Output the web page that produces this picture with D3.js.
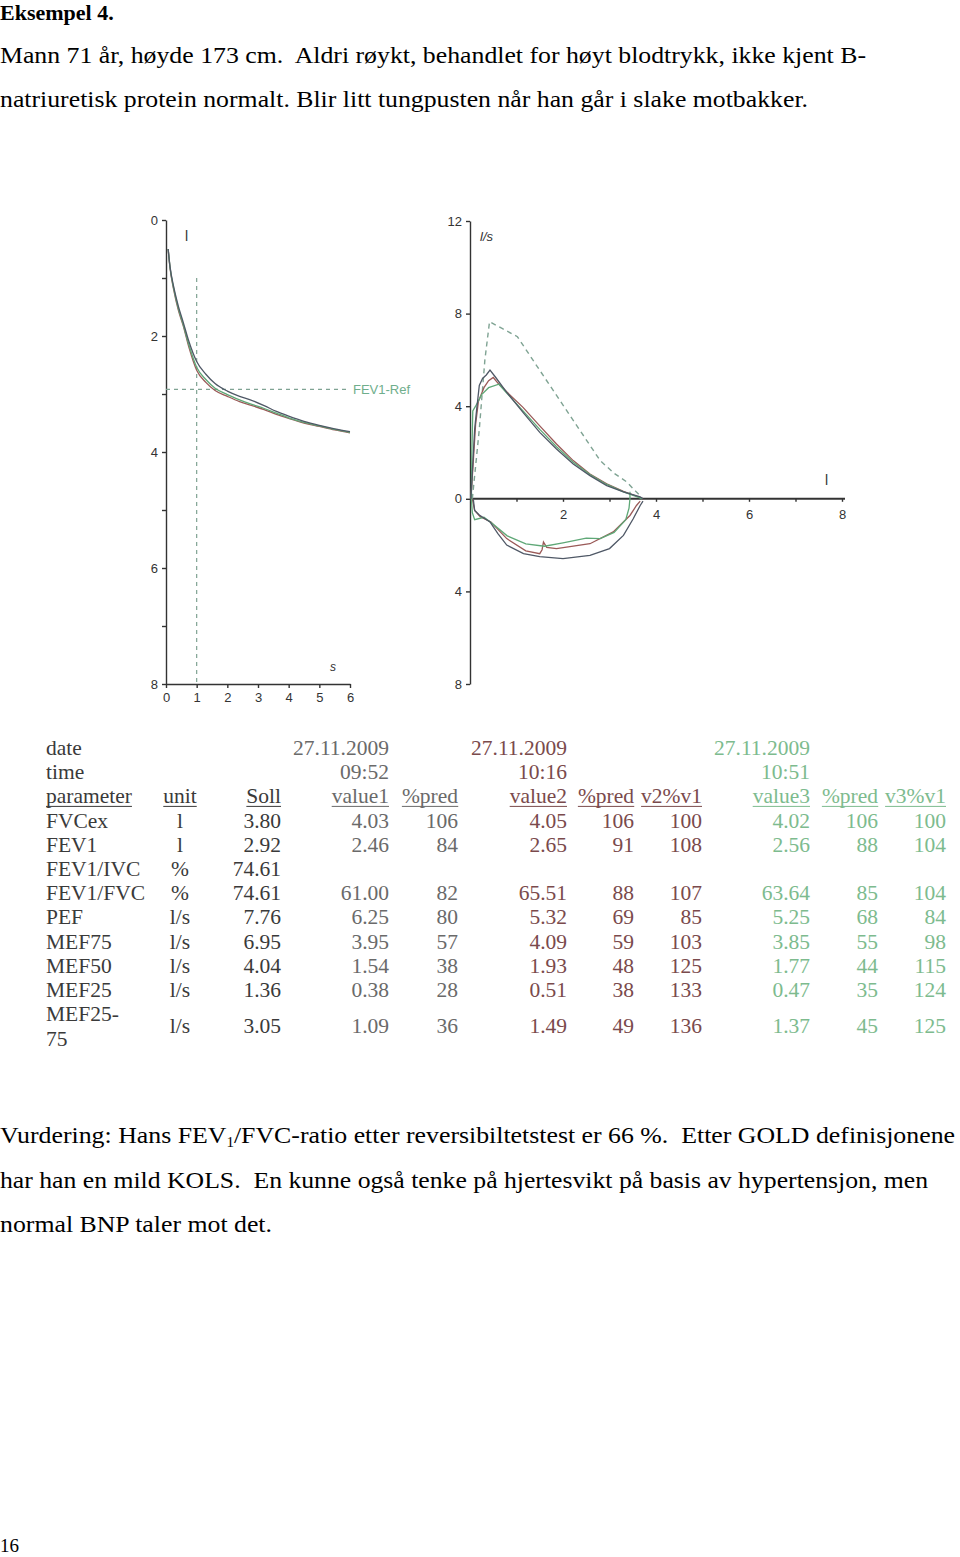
<!DOCTYPE html>
<html><head><meta charset="utf-8">
<script src="https://cdn.jsdelivr.net/npm/d3@7"></script>
<style>
html,body{margin:0;padding:0;background:#fff;}
svg{display:block;}
text{white-space:pre;}
</style></head>
<body>
<svg id="c" width="960" height="1557"></svg>
<script>
// ---------- DATA ----------
const introLines = [
  "Mann 71 år, høyde 173 cm.  Aldri røykt, behandlet for høyt blodtrykk, ikke kjent B-",
  "natriuretisk protein normalt. Blir litt tungpusten når han går i slake motbakker."
];
const title = "Eksempel 4.";
// volume-time curves [seconds, litres]
const vtSeries1 = [[0.07,0.5],[0.13,0.8],[0.25,1.15],[0.4,1.48],[0.56,1.76],[0.75,2.1],[1.0,2.44],[1.3,2.66],[1.6,2.82],[2.0,2.95],[2.4,3.04],[2.75,3.1],[3.2,3.2],[3.6,3.3],[4.0,3.38],[4.5,3.47],[5.0,3.54],[5.5,3.6],[6.0,3.65]];
const vtSeries2 = [[0.07,0.5],[0.13,0.82],[0.25,1.2],[0.4,1.55],[0.56,1.82],[0.75,2.2],[1.0,2.59],[1.3,2.8],[1.6,2.94],[2.0,3.04],[2.4,3.13],[2.75,3.19],[3.2,3.27],[3.6,3.35],[4.0,3.42],[4.5,3.5],[5.0,3.56],[5.5,3.62],[6.0,3.67]];
const vtSeries3 = [[0.07,0.5],[0.13,0.81],[0.25,1.18],[0.4,1.52],[0.56,1.8],[0.75,2.16],[1.0,2.54],[1.3,2.75],[1.6,2.9],[2.0,3.01],[2.4,3.1],[2.75,3.17],[3.2,3.25],[3.6,3.33],[4.0,3.41],[4.5,3.49],[5.0,3.55],[5.5,3.61],[6.0,3.66]];
const fev1Ref = 2.92;
// flow-volume curves [litres, l/s]
const fvPredicted = [[0.05,0],[0.2,3.0],[0.32,6.0],[0.42,7.65],[0.7,7.35],[1.02,7.0],[1.5,5.55],[2.0,4.05],[2.5,2.55],[2.8,1.65],[3.1,1.1],[3.37,0.73],[3.55,0.35],[3.7,0.05]];
const fvExp1 = [[0.02,0],[0.06,1.5],[0.1,3.0],[0.14,3.8],[0.2,4.9],[0.27,5.2],[0.35,5.35],[0.43,5.56],[0.55,5.25],[0.79,4.6],[1.14,3.73],[1.5,2.87],[1.86,2.15],[2.22,1.5],[2.58,1.0],[2.94,0.57],[3.3,0.3],[3.66,0.08],[3.72,0]];
const fvExp2 = [[0.02,0],[0.07,1.6],[0.12,3.2],[0.18,4.2],[0.3,4.8],[0.4,5.1],[0.5,5.24],[0.6,5.0],[0.8,4.6],[1.14,3.95],[1.5,3.15],[1.86,2.37],[2.22,1.65],[2.58,1.07],[2.94,0.65],[3.3,0.32],[3.6,0.1],[3.72,0]];
const fvExp3 = [[0.03,0],[0.04,2.0],[0.06,3.8],[0.12,4.0],[0.25,4.5],[0.4,4.8],[0.62,4.95],[0.8,4.55],[1.14,3.8],[1.5,3.0],[1.86,2.25],[2.22,1.58],[2.58,1.05],[2.94,0.62],[3.3,0.3],[3.6,0.08],[3.7,0]];
const fvIns1 = [[0.07,0],[0.1,-0.5],[0.2,-0.7],[0.43,-1.0],[0.6,-1.5],[0.79,-2.0],[1.15,-2.37],[1.5,-2.5],[2.0,-2.58],[2.58,-2.44],[3.0,-2.15],[3.3,-1.58],[3.51,-0.86],[3.66,-0.29],[3.72,-0.1]];
const fvIns2 = [[0.05,0],[0.1,-0.5],[0.22,-0.77],[0.45,-1.0],[0.79,-1.72],[1.2,-2.25],[1.5,-2.37],[1.55,-2.2],[1.58,-1.87],[1.65,-2.1],[1.86,-2.15],[2.58,-1.94],[3.08,-1.43],[3.44,-0.72],[3.58,-0.29],[3.66,-0.1]];
const fvIns3 = [[0.03,0],[0.05,-0.6],[0.1,-0.9],[0.3,-0.8],[0.5,-1.1],[0.8,-1.6],[1.2,-1.95],[1.6,-2.05],[2.0,-1.9],[2.5,-1.7],[2.8,-1.72],[3.1,-1.45],[3.35,-0.9],[3.42,-0.4],[3.44,0],[3.44,0.3]];
const vtYTicks = [0,1,2,3,4,5,6,7,8];
const vtXTicks = [0,1,2,3,4,5,6];
const fvXTicks = [1,2,3,4,5,6,7,8];
const fvYTicks = [-8,-4,0,4,8,12];
// table
const dates = ["27.11.2009","27.11.2009","27.11.2009"];
const times = ["09:52","10:16","10:51"];
const params = ["FVCex","FEV1","FEV1/IVC","FEV1/FVC","PEF","MEF75","MEF50","MEF25","MEF25-75"];
const units = ["l","l","%","%","l/s","l/s","l/s","l/s","l/s"];
const soll = ["3.80","2.92","74.61","74.61","7.76","6.95","4.04","1.36","3.05"];
const value1 = ["4.03","2.46","","61.00","6.25","3.95","1.54","0.38","1.09"];
const pred1 = ["106","84","","82","80","57","38","28","36"];
const value2 = ["4.05","2.65","","65.51","5.32","4.09","1.93","0.51","1.49"];
const pred2 = ["106","91","","88","69","59","48","38","49"];
const v2v1 = ["100","108","","107","85","103","125","133","136"];
const value3 = ["4.02","2.56","","63.64","5.25","3.85","1.77","0.47","1.37"];
const pred3 = ["106","88","","85","68","55","44","35","45"];
const v3v1 = ["100","104","","104","84","98","115","124","125"];
const assessment = [
  ["Vurdering: Hans FEV","1","/FVC-ratio etter reversibiltetstest er 66 %.  Etter GOLD definisjonene"],
  ["har han en mild KOLS.  En kunne også tenke på hjertesvikt på basis av hypertensjon, men"],
  ["normal BNP taler mot det."]
];
const pageNo = "16";

// ---------- DRAW ----------
const svg = d3.select("#c");
const serif = "'Liberation Serif','Times New Roman',serif";
const sans = "'Liberation Sans',Arial,sans-serif";
const cDark = "#4f5866", cRed = "#9a5a58", cGreen = "#5fa877", cPred = "#7fa393";

function fitText(sel, w){ sel.attr("textLength", w).attr("lengthAdjust","spacingAndGlyphs"); }

svg.append("text").attr("x",0).attr("y",20).attr("font-family",serif).attr("font-weight","bold")
  .attr("font-size",22).attr("fill","#000").text(title);
const introW = [866, 808];
introLines.forEach((l,i)=>{
  svg.append("text").attr("x",0).attr("y",63+i*44).attr("font-family",serif).attr("font-size",23)
    .attr("fill","#000").text(l).call(fitText, introW[i]);
});

// volume-time
const vtX = d3.scaleLinear([0,6],[166,350]);
const vtY = d3.scaleLinear([0,8],[220,684]);
const gvt = svg.append("g");
const axStyle = g=>{ g.selectAll("path,line").attr("stroke","#333").attr("stroke-width",1.4);
  g.selectAll("text").attr("font-family",sans).attr("font-size",13).attr("fill","#333"); };
gvt.append("g").attr("transform","translate(166,0)")
  .call(d3.axisLeft(vtY).tickValues(vtYTicks).tickSize(4).tickSizeOuter(0).tickPadding(4)
    .tickFormat(d=>d%2===0?d:"")).call(axStyle);
gvt.append("g").attr("transform","translate(0,684)")
  .call(d3.axisBottom(vtX).tickValues(vtXTicks).tickSize(4).tickSizeOuter(0).tickPadding(5)
    .tickFormat(d3.format("d"))).call(axStyle);
// reference lines
gvt.append("line").attr("x1",vtX(0)).attr("x2",vtX(5.92)).attr("y1",vtY(fev1Ref)).attr("y2",vtY(fev1Ref))
  .attr("stroke",cPred).attr("stroke-width",1.2).attr("stroke-dasharray","4,4");
gvt.append("line").attr("x1",vtX(1)).attr("x2",vtX(1)).attr("y1",vtY(1)).attr("y2",vtY(8))
  .attr("stroke",cPred).attr("stroke-width",1.2).attr("stroke-dasharray","4,4");
gvt.append("text").attr("x",vtX(6)+3).attr("y",vtY(fev1Ref)+4.5).attr("font-family",sans).attr("font-size",13)
  .attr("fill","#6fae8c").text("FEV1-Ref");
gvt.append("text").attr("x",185).attr("y",241).attr("font-family",sans).attr("font-size",14).attr("fill","#333").text("l");
gvt.append("text").attr("x",330).attr("y",671).attr("font-family",sans).attr("font-style","italic").attr("font-size",12).attr("fill","#333").text("s");
const vtLine = d3.line().x(d=>vtX(d[0])).y(d=>vtY(d[1])).curve(d3.curveMonotoneX);
[[vtSeries2,cRed],[vtSeries3,cGreen],[vtSeries1,cDark]].forEach(([s,c])=>{
  gvt.append("path").datum(s).attr("d",vtLine).attr("fill","none").attr("stroke",c).attr("stroke-width",1.3);
});

// flow-volume
const fvX = d3.scaleLinear([0,8],[470,842]);
const fvY = d3.scaleLinear([-8,12],[684,221]);
const gfv = svg.append("g");
gfv.append("g").attr("transform","translate(470,0)")
  .call(d3.axisLeft(fvY).tickValues(fvYTicks).tickSize(4).tickSizeOuter(0).tickPadding(4)
    .tickFormat(d=>Math.abs(d))).call(axStyle);
gfv.append("g").attr("transform",`translate(0,${fvY(0)})`)
  .call(d3.axisBottom(fvX).tickValues(fvXTicks).tickSize(3).tickSizeOuter(0).tickPadding(8)
    .tickFormat(d=>d%2===0?d:"")).call(axStyle)
  .call(g=>g.select("path").attr("stroke-width",2).attr("d",`M470,0H845`));
gfv.append("text").attr("x",480).attr("y",241).attr("font-family",sans).attr("font-style","italic").attr("font-size",13).attr("fill","#333").text("l/s");
gfv.append("text").attr("x",825).attr("y",485).attr("font-family",sans).attr("font-size",14).attr("fill","#333").text("l");
const fvLine = d3.line().x(d=>fvX(d[0])).y(d=>fvY(d[1]));
gfv.append("path").datum(fvPredicted).attr("d",fvLine).attr("fill","none").attr("stroke",cPred)
  .attr("stroke-width",1.4).attr("stroke-dasharray","5,4");
[[fvExp2,cRed],[fvIns2,cRed],[fvExp3,cGreen],[fvIns3,cGreen],[fvExp1,cDark],[fvIns1,cDark]].forEach(([s,c])=>{
  gfv.append("path").datum(s).attr("d",fvLine).attr("fill","none").attr("stroke",c).attr("stroke-width",1.3);
});

// table
const gt = svg.append("g").attr("font-family",serif).attr("font-size",21.5);
const cName = "#3a3a3a", cG1 = "#6a6a6a", cG2 = "#7a4a4c", cG3 = "#7dbb8e";
const rowY = i => 755 + i*24.2;
function txt(x,y,s,col,anchor,ul){
  const t = gt.append("text").attr("x",x).attr("y",y).attr("fill",col).attr("text-anchor",anchor||"start").text(s);
  if(ul){ const b = t.node().getBBox();
    gt.append("line").attr("x1",b.x).attr("x2",b.x+b.width).attr("y1",y+3).attr("y2",y+3).attr("stroke",col).attr("stroke-width",1); }
  return t;
}
txt(46,rowY(0),"date",cName); txt(46,rowY(1),"time",cName);
txt(46,rowY(2),"parameter",cName,"start",true);
txt(180,rowY(2),"unit",cName,"middle",true);
txt(281,rowY(2),"Soll",cName,"end",true);
const groups = [
  {col:cG1, cols:[[389,value1,"value1"],[458,pred1,"%pred"]]},
  {col:cG2, cols:[[567,value2,"value2"],[634,pred2,"%pred"],[702,v2v1,"v2%v1"]]},
  {col:cG3, cols:[[810,value3,"value3"],[878,pred3,"%pred"],[946,v3v1,"v3%v1"]]}
];
groups.forEach((g,gi)=>{
  const rx = g.cols[0][0];
  txt(rx,rowY(0),dates[gi],g.col,"end");
  txt(rx,rowY(1),times[gi],g.col,"end");
  g.cols.forEach(([x,arr,h])=>{
    txt(x,rowY(2),h,g.col,"end",true);
    arr.forEach((v,i)=>{ const y = i===8 ? rowY(3+i)+12 : rowY(3+i); if(v) txt(x,y,v,g.col,"end"); });
  });
});
params.forEach((p,i)=>{
  const y = i===8 ? rowY(3+i)+12 : rowY(3+i);
  if(i===8){ txt(46,rowY(3+i),"MEF25-",cName); txt(46,rowY(3+i)+25,"75",cName); }
  else txt(46,y,p,cName);
  txt(180,y,units[i],cName,"middle");
  txt(281,y,soll[i],cName,"end");
});

// assessment
const aW = [955, 928, 272];
assessment.forEach((parts,i)=>{
  const t = svg.append("text").attr("x",0).attr("y",1143+i*44.5).attr("font-family",serif).attr("font-size",24).attr("fill","#000");
  if(parts.length===1){ t.text(parts[0]); }
  else {
    t.append("tspan").text(parts[0]);
    t.append("tspan").attr("font-size",14).attr("dy",4).text(parts[1]);
    t.append("tspan").attr("dy",-4).text(parts[2]);
  }
  t.call(fitText, aW[i]);
});
svg.append("text").attr("x",0).attr("y",1552).attr("font-family",serif).attr("font-size",19).attr("fill","#000").text(pageNo);
</script>
</body></html>
